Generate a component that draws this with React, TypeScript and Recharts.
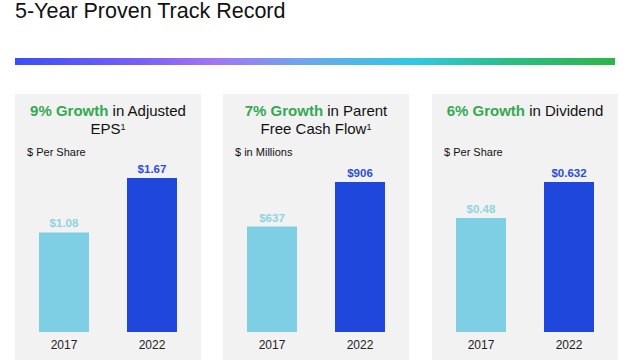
import { BarChart, Bar, XAxis, YAxis, Cell, LabelList } from 'recharts'

const years = ['2017', '2022']

const epsValues = [1.08, 1.67]
const epsLabels = ['$1.08', '$1.67']

const fcfValues = [637, 906]
const fcfLabels = ['$637', '$906']

const divValues = [0.48, 0.632]
const divLabels = ['$0.48', '$0.632']

const barColors = ['#7ecfe3', '#1f47dc']
const labelColors = ['#8fd2e2', '#2b4fd3']

const GREEN = '#35a853'
const FONT = '"Liberation Sans", Arial, sans-serif'

function MiniBars({ values, labels, max }: { values: number[]; labels: string[]; max: number }) {
  const data = years.map((year, i) => ({ year, value: values[i], label: labels[i] }))
  return (
    <BarChart width={186} height={266} data={data} margin={{ top: 66, right: 5, left: 5, bottom: 0 }}>
      <XAxis
        dataKey="year"
        axisLine={false}
        tickLine={false}
        height={28}
        tick={{ fill: '#222', fontSize: 12, fontFamily: FONT }}
        interval={0}
      />
      <YAxis hide domain={[0, max]} />
      <Bar dataKey="value" barSize={50} isAnimationActive={false}>
        {data.map((d, i) => (
          <Cell key={d.year} fill={barColors[i]} />
        ))}
        <LabelList
          dataKey="label"
          content={(p: any) => (
            <text
              x={p.x + p.width / 2}
              y={p.y - 5}
              textAnchor="middle"
              fill={labelColors[p.index]}
              fontSize={11.5}
              fontWeight="bold"
              fontFamily={FONT}
            >
              {p.value}
            </text>
          )}
        />
      </Bar>
    </BarChart>
  )
}

function Panel({ left, title, unit, children }: { left: number; title: React.ReactNode; unit: string; children: React.ReactNode }) {
  return (
    <div style={{ position: 'absolute', left, top: 94, width: 186, height: 266, background: '#f2f2f2' }}>
      <div style={{ position: 'absolute', top: 8, left: 0, width: 186, textAlign: 'center', fontSize: 15, lineHeight: '18px', color: '#111' }}>
        {title}
      </div>
      <div style={{ position: 'absolute', top: 52, left: 12, fontSize: 11, color: '#111' }}>{unit}</div>
      <div style={{ position: 'absolute', top: 0, left: 0 }}>{children}</div>
    </div>
  )
}

const g = (s: string) => <span style={{ color: GREEN, fontWeight: 'bold' }}>{s}</span>
const sup = <sup style={{ fontSize: 9, verticalAlign: 'top', lineHeight: '14px' }}>1</sup>

export default function App() {
  return (
    <div style={{ position: 'absolute', left: 0, top: 0, width: 640, height: 360, background: '#fff', fontFamily: FONT, overflow: 'hidden' }}>
      <div style={{ position: 'absolute', left: 15, top: 0, fontSize: 21.5, lineHeight: '22px', color: '#111' }}>5-Year Proven Track Record</div>
      <div
        style={{
          position: 'absolute',
          left: 15,
          top: 58,
          width: 600,
          height: 7,
          background: 'linear-gradient(to right, #3a4ef6 0%, #7b62f5 22%, #a374f4 33%, #6fa6ea 48%, #2ec9e4 67%, #2bbd86 82%, #2db54a 100%)',
        }}
      />
      <Panel left={15} title={<>{g('9% Growth')} in Adjusted<br />EPS{sup}</>} unit="$ Per Share">
        <MiniBars values={epsValues} labels={epsLabels} max={1.865} />
      </Panel>
      <Panel left={223} title={<>{g('7% Growth')} in Parent<br />Free Cash Flow{sup}</>} unit="$ in Millions">
        <MiniBars values={fcfValues} labels={fcfLabels} max={1039} />
      </Panel>
      <Panel left={432} title={<>{g('6% Growth')} in Dividend</>} unit="$ Per Share">
        <MiniBars values={divValues} labels={divLabels} max={0.7247} />
      </Panel>
    </div>
  )
}
